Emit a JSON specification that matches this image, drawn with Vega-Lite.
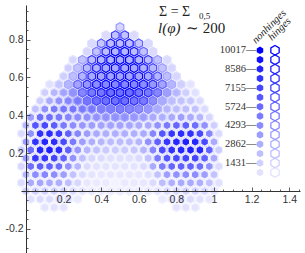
{
"$schema":"https://vega.github.io/schema/vega-lite/v6.json",
"width":274,"height":186,
"autosize":{"type":"none"},
"padding":{"left":26,"top":5,"right":5,"bottom":62},
"background":"white",
"config":{"view":{"stroke":null}},
"datasets":{
"hex":[
{"x":0.5,"y":0.866,"n":1200,"h":3500},
{"x":0.425,"y":0.8227,"n":1000,"h":800},{"x":0.475,"y":0.8227,"n":2000,"h":7500},{"x":0.525,"y":0.8227,"n":2000,"h":7500},{"x":0.575,"y":0.8227,"n":1000,"h":800},
{"x":0.35,"y":0.7794,"n":1000,"h":1000},{"x":0.4,"y":0.7794,"n":1800,"h":6000},{"x":0.45,"y":0.7794,"n":2200,"h":9000},{"x":0.5,"y":0.7794,"n":2200,"h":9500},{"x":0.55,"y":0.7794,"n":2200,"h":9000},{"x":0.6,"y":0.7794,"n":1800,"h":6000},{"x":0.65,"y":0.7794,"n":1000,"h":1000},
{"x":0.325,"y":0.7361,"n":1200,"h":800},{"x":0.375,"y":0.7361,"n":2000,"h":5000},{"x":0.425,"y":0.7361,"n":2200,"h":9000},{"x":0.475,"y":0.7361,"n":2500,"h":10000},{"x":0.525,"y":0.7361,"n":2500,"h":10000},{"x":0.575,"y":0.7361,"n":2200,"h":9000},{"x":0.625,"y":0.7361,"n":2000,"h":5500},{"x":0.675,"y":0.7361,"n":1000,"h":1000},
{"x":0.25,"y":0.6928,"n":1200,"h":500},{"x":0.3,"y":0.6928,"n":2000,"h":3500},{"x":0.35,"y":0.6928,"n":2200,"h":7500},{"x":0.4,"y":0.6928,"n":2500,"h":9500},{"x":0.45,"y":0.6928,"n":2700,"h":10000},{"x":0.5,"y":0.6928,"n":2800,"h":10000},{"x":0.55,"y":0.6928,"n":2700,"h":10000},{"x":0.6,"y":0.6928,"n":2500,"h":9500},{"x":0.65,"y":0.6928,"n":2200,"h":7500},{"x":0.7,"y":0.6928,"n":2000,"h":3500},{"x":0.75,"y":0.6928,"n":1000,"h":800},
{"x":0.225,"y":0.6495,"n":1500,"h":500},{"x":0.275,"y":0.6495,"n":2000,"h":3000},{"x":0.325,"y":0.6495,"n":2400,"h":7000},{"x":0.375,"y":0.6495,"n":2700,"h":9000},{"x":0.425,"y":0.6495,"n":3000,"h":10000},{"x":0.475,"y":0.6495,"n":3000,"h":10000},{"x":0.525,"y":0.6495,"n":3000,"h":10000},{"x":0.575,"y":0.6495,"n":3000,"h":10000},{"x":0.625,"y":0.6495,"n":2700,"h":9000},{"x":0.675,"y":0.6495,"n":2400,"h":7000},{"x":0.725,"y":0.6495,"n":2000,"h":3500},{"x":0.775,"y":0.6495,"n":1200,"h":800},
{"x":0.2,"y":0.6062,"n":1500,"h":500},{"x":0.25,"y":0.6062,"n":2200,"h":3000},{"x":0.3,"y":0.6062,"n":2600,"h":6500},{"x":0.35,"y":0.6062,"n":3000,"h":9000},{"x":0.4,"y":0.6062,"n":3200,"h":10000},{"x":0.45,"y":0.6062,"n":3300,"h":10000},{"x":0.5,"y":0.6062,"n":3300,"h":10000},{"x":0.55,"y":0.6062,"n":3300,"h":10000},{"x":0.6,"y":0.6062,"n":3200,"h":10000},{"x":0.65,"y":0.6062,"n":3000,"h":9000},{"x":0.7,"y":0.6062,"n":2600,"h":7000},{"x":0.75,"y":0.6062,"n":2200,"h":3500},{"x":0.8,"y":0.6062,"n":1200,"h":800},
{"x":0.125,"y":0.5629,"n":800,"h":200},{"x":0.175,"y":0.5629,"n":1800,"h":1000},{"x":0.225,"y":0.5629,"n":2500,"h":3000},{"x":0.275,"y":0.5629,"n":3200,"h":6000},{"x":0.325,"y":0.5629,"n":3800,"h":8500},{"x":0.375,"y":0.5629,"n":4200,"h":9500},{"x":0.425,"y":0.5629,"n":4500,"h":10000},{"x":0.475,"y":0.5629,"n":4500,"h":10000},{"x":0.525,"y":0.5629,"n":4500,"h":10000},{"x":0.575,"y":0.5629,"n":4500,"h":10000},{"x":0.625,"y":0.5629,"n":4200,"h":9500},{"x":0.675,"y":0.5629,"n":3800,"h":8500},{"x":0.725,"y":0.5629,"n":3200,"h":6000},{"x":0.775,"y":0.5629,"n":2500,"h":3000},{"x":0.825,"y":0.5629,"n":1500,"h":1000},{"x":0.875,"y":0.5629,"n":600,"h":200},
{"x":0.1,"y":0.5196,"n":1500,"h":200},{"x":0.15,"y":0.5196,"n":2500,"h":500},{"x":0.2,"y":0.5196,"n":3300,"h":1500},{"x":0.25,"y":0.5196,"n":4000,"h":3500},{"x":0.3,"y":0.5196,"n":4500,"h":6000},{"x":0.35,"y":0.5196,"n":5000,"h":8000},{"x":0.4,"y":0.5196,"n":5200,"h":9000},{"x":0.45,"y":0.5196,"n":5500,"h":9500},{"x":0.5,"y":0.5196,"n":5500,"h":9500},{"x":0.55,"y":0.5196,"n":5500,"h":9500},{"x":0.6,"y":0.5196,"n":5200,"h":9000},{"x":0.65,"y":0.5196,"n":5000,"h":8000},{"x":0.7,"y":0.5196,"n":4500,"h":6000},{"x":0.75,"y":0.5196,"n":3500,"h":3500},{"x":0.8,"y":0.5196,"n":2500,"h":1500},{"x":0.85,"y":0.5196,"n":1500,"h":500},{"x":0.9,"y":0.5196,"n":800,"h":200},
{"x":0.075,"y":0.4763,"n":1500,"h":200},{"x":0.125,"y":0.4763,"n":3000,"h":500},{"x":0.175,"y":0.4763,"n":4000,"h":1000},{"x":0.225,"y":0.4763,"n":4500,"h":2000},{"x":0.275,"y":0.4763,"n":5000,"h":3500},{"x":0.325,"y":0.4763,"n":5200,"h":5500},{"x":0.375,"y":0.4763,"n":5500,"h":7000},{"x":0.425,"y":0.4763,"n":5500,"h":8000},{"x":0.475,"y":0.4763,"n":5500,"h":8500},{"x":0.525,"y":0.4763,"n":5500,"h":8500},{"x":0.575,"y":0.4763,"n":5200,"h":8000},{"x":0.625,"y":0.4763,"n":5000,"h":7000},{"x":0.675,"y":0.4763,"n":4200,"h":5000},{"x":0.725,"y":0.4763,"n":3000,"h":3000},{"x":0.775,"y":0.4763,"n":2200,"h":1500},{"x":0.825,"y":0.4763,"n":2000,"h":800},{"x":0.875,"y":0.4763,"n":1800,"h":500},{"x":0.925,"y":0.4763,"n":1000,"h":200},
{"x":0.05,"y":0.433,"n":2000,"h":200},{"x":0.1,"y":0.433,"n":4000,"h":300},{"x":0.15,"y":0.433,"n":5000,"h":500},{"x":0.2,"y":0.433,"n":5200,"h":1000},{"x":0.25,"y":0.433,"n":5200,"h":1500},{"x":0.3,"y":0.433,"n":5000,"h":2500},{"x":0.35,"y":0.433,"n":5000,"h":3500},{"x":0.4,"y":0.433,"n":4800,"h":4500},{"x":0.45,"y":0.433,"n":4800,"h":5000},{"x":0.5,"y":0.433,"n":4800,"h":5500},{"x":0.55,"y":0.433,"n":4500,"h":5500},{"x":0.6,"y":0.433,"n":4200,"h":5000},{"x":0.65,"y":0.433,"n":3800,"h":4000},{"x":0.7,"y":0.433,"n":3000,"h":2500},{"x":0.75,"y":0.433,"n":2500,"h":1200},{"x":0.8,"y":0.433,"n":2200,"h":600},{"x":0.85,"y":0.433,"n":2200,"h":400},{"x":0.9,"y":0.433,"n":2000,"h":300},{"x":0.95,"y":0.433,"n":1000,"h":100},
{"x":0.025,"y":0.3897,"n":3500,"h":200},{"x":0.075,"y":0.3897,"n":5500,"h":300},{"x":0.125,"y":0.3897,"n":5500,"h":400},{"x":0.175,"y":0.3897,"n":5000,"h":500},{"x":0.225,"y":0.3897,"n":4500,"h":800},{"x":0.275,"y":0.3897,"n":4200,"h":1200},{"x":0.325,"y":0.3897,"n":4000,"h":1500},{"x":0.375,"y":0.3897,"n":4000,"h":2000},{"x":0.425,"y":0.3897,"n":4000,"h":2500},{"x":0.475,"y":0.3897,"n":4000,"h":3000},{"x":0.525,"y":0.3897,"n":4000,"h":3000},{"x":0.575,"y":0.3897,"n":3800,"h":2800},{"x":0.625,"y":0.3897,"n":3500,"h":2000},{"x":0.675,"y":0.3897,"n":3000,"h":1200},{"x":0.725,"y":0.3897,"n":2800,"h":800},{"x":0.775,"y":0.3897,"n":3000,"h":500},{"x":0.825,"y":0.3897,"n":3500,"h":300},{"x":0.875,"y":0.3897,"n":3000,"h":300},{"x":0.925,"y":0.3897,"n":2500,"h":200},{"x":0.975,"y":0.3897,"n":1200,"h":100},
{"x":0,"y":0.3464,"n":2500,"h":200},{"x":0.05,"y":0.3464,"n":6500,"h":300},{"x":0.1,"y":0.3464,"n":7000,"h":300},{"x":0.15,"y":0.3464,"n":6200,"h":300},{"x":0.2,"y":0.3464,"n":5000,"h":400},{"x":0.25,"y":0.3464,"n":4200,"h":500},{"x":0.3,"y":0.3464,"n":3800,"h":600},{"x":0.35,"y":0.3464,"n":3500,"h":800},{"x":0.4,"y":0.3464,"n":3300,"h":1000},{"x":0.45,"y":0.3464,"n":3300,"h":1200},{"x":0.5,"y":0.3464,"n":3300,"h":1200},{"x":0.55,"y":0.3464,"n":3200,"h":1000},{"x":0.6,"y":0.3464,"n":3000,"h":800},{"x":0.65,"y":0.3464,"n":3000,"h":500},{"x":0.7,"y":0.3464,"n":4000,"h":400},{"x":0.75,"y":0.3464,"n":5000,"h":300},{"x":0.8,"y":0.3464,"n":5800,"h":300},{"x":0.85,"y":0.3464,"n":6000,"h":300},{"x":0.9,"y":0.3464,"n":5500,"h":200},{"x":0.95,"y":0.3464,"n":4000,"h":200},{"x":1,"y":0.3464,"n":1500,"h":100},
{"x":-0.025,"y":0.3031,"n":1000,"h":100},{"x":0.025,"y":0.3031,"n":4000,"h":200},{"x":0.075,"y":0.3031,"n":8000,"h":200},{"x":0.125,"y":0.3031,"n":8200,"h":200},{"x":0.175,"y":0.3031,"n":7500,"h":200},{"x":0.225,"y":0.3031,"n":6000,"h":300},{"x":0.275,"y":0.3031,"n":4500,"h":300},{"x":0.325,"y":0.3031,"n":3500,"h":400},{"x":0.375,"y":0.3031,"n":3000,"h":500},{"x":0.425,"y":0.3031,"n":2800,"h":600},{"x":0.475,"y":0.3031,"n":2800,"h":600},{"x":0.525,"y":0.3031,"n":2800,"h":600},{"x":0.575,"y":0.3031,"n":2800,"h":500},{"x":0.625,"y":0.3031,"n":3000,"h":400},{"x":0.675,"y":0.3031,"n":4500,"h":300},{"x":0.725,"y":0.3031,"n":6500,"h":200},{"x":0.775,"y":0.3031,"n":7800,"h":200},{"x":0.825,"y":0.3031,"n":8200,"h":200},{"x":0.875,"y":0.3031,"n":8000,"h":200},{"x":0.925,"y":0.3031,"n":7000,"h":200},{"x":0.975,"y":0.3031,"n":4500,"h":100},{"x":1.025,"y":0.3031,"n":1000,"h":100},
{"x":0,"y":0.2598,"n":3500,"h":100},{"x":0.05,"y":0.2598,"n":8000,"h":200},{"x":0.1,"y":0.2598,"n":8500,"h":200},{"x":0.15,"y":0.2598,"n":8200,"h":200},{"x":0.2,"y":0.2598,"n":7000,"h":200},{"x":0.25,"y":0.2598,"n":5000,"h":200},{"x":0.3,"y":0.2598,"n":3500,"h":300},{"x":0.35,"y":0.2598,"n":2800,"h":300},{"x":0.4,"y":0.2598,"n":2500,"h":400},{"x":0.45,"y":0.2598,"n":2300,"h":400},{"x":0.5,"y":0.2598,"n":2300,"h":400},{"x":0.55,"y":0.2598,"n":2300,"h":400},{"x":0.6,"y":0.2598,"n":2600,"h":300},{"x":0.65,"y":0.2598,"n":4000,"h":200},{"x":0.7,"y":0.2598,"n":6000,"h":200},{"x":0.75,"y":0.2598,"n":7800,"h":200},{"x":0.8,"y":0.2598,"n":8500,"h":200},{"x":0.85,"y":0.2598,"n":8700,"h":200},{"x":0.9,"y":0.2598,"n":8500,"h":200},{"x":0.95,"y":0.2598,"n":7000,"h":100},{"x":1,"y":0.2598,"n":3000,"h":100},
{"x":-0.025,"y":0.2165,"n":1500,"h":100},{"x":0.025,"y":0.2165,"n":5500,"h":100},{"x":0.075,"y":0.2165,"n":8500,"h":100},{"x":0.125,"y":0.2165,"n":8800,"h":100},{"x":0.175,"y":0.2165,"n":8200,"h":200},{"x":0.225,"y":0.2165,"n":6000,"h":200},{"x":0.275,"y":0.2165,"n":3800,"h":200},{"x":0.325,"y":0.2165,"n":2500,"h":200},{"x":0.375,"y":0.2165,"n":2000,"h":300},{"x":0.425,"y":0.2165,"n":1700,"h":300},{"x":0.475,"y":0.2165,"n":1600,"h":300},{"x":0.525,"y":0.2165,"n":1600,"h":300},{"x":0.575,"y":0.2165,"n":1800,"h":300},{"x":0.625,"y":0.2165,"n":2500,"h":200},{"x":0.675,"y":0.2165,"n":4500,"h":200},{"x":0.725,"y":0.2165,"n":7000,"h":200},{"x":0.775,"y":0.2165,"n":8000,"h":100},{"x":0.825,"y":0.2165,"n":8500,"h":100},{"x":0.875,"y":0.2165,"n":8800,"h":100},{"x":0.925,"y":0.2165,"n":8500,"h":100},{"x":0.975,"y":0.2165,"n":6000,"h":100},{"x":1.025,"y":0.2165,"n":1500,"h":100},
{"x":0,"y":0.1732,"n":3500,"h":100},{"x":0.05,"y":0.1732,"n":7800,"h":100},{"x":0.1,"y":0.1732,"n":7800,"h":100},{"x":0.15,"y":0.1732,"n":7200,"h":100},{"x":0.2,"y":0.1732,"n":6000,"h":100},{"x":0.25,"y":0.1732,"n":4000,"h":100},{"x":0.3,"y":0.1732,"n":2200,"h":200},{"x":0.35,"y":0.1732,"n":1200,"h":200},{"x":0.4,"y":0.1732,"n":1000,"h":200},{"x":0.45,"y":0.1732,"n":800,"h":200},{"x":0.5,"y":0.1732,"n":800,"h":200},{"x":0.55,"y":0.1732,"n":800,"h":200},{"x":0.6,"y":0.1732,"n":1000,"h":200},{"x":0.65,"y":0.1732,"n":2000,"h":200},{"x":0.7,"y":0.1732,"n":5000,"h":100},{"x":0.75,"y":0.1732,"n":6500,"h":100},{"x":0.8,"y":0.1732,"n":7000,"h":100},{"x":0.85,"y":0.1732,"n":7200,"h":100},{"x":0.9,"y":0.1732,"n":7200,"h":100},{"x":0.95,"y":0.1732,"n":6000,"h":100},{"x":1,"y":0.1732,"n":3000,"h":100},
{"x":-0.025,"y":0.1299,"n":1200,"h":100},{"x":0.025,"y":0.1299,"n":5500,"h":100},{"x":0.075,"y":0.1299,"n":6200,"h":100},{"x":0.125,"y":0.1299,"n":6000,"h":100},{"x":0.175,"y":0.1299,"n":5500,"h":100},{"x":0.225,"y":0.1299,"n":4000,"h":100},{"x":0.275,"y":0.1299,"n":2500,"h":100},{"x":0.325,"y":0.1299,"n":1000,"h":100},{"x":0.375,"y":0.1299,"n":700,"h":100},{"x":0.425,"y":0.1299,"n":600,"h":100},{"x":0.475,"y":0.1299,"n":600,"h":100},{"x":0.525,"y":0.1299,"n":600,"h":100},{"x":0.575,"y":0.1299,"n":600,"h":100},{"x":0.625,"y":0.1299,"n":1000,"h":100},{"x":0.675,"y":0.1299,"n":3000,"h":100},{"x":0.725,"y":0.1299,"n":5000,"h":100},{"x":0.775,"y":0.1299,"n":5800,"h":100},{"x":0.825,"y":0.1299,"n":6000,"h":100},{"x":0.875,"y":0.1299,"n":6000,"h":100},{"x":0.925,"y":0.1299,"n":5500,"h":100},{"x":0.975,"y":0.1299,"n":4000,"h":100},{"x":1.025,"y":0.1299,"n":1000,"h":100},
{"x":0,"y":0.0866,"n":2500,"h":100},{"x":0.05,"y":0.0866,"n":4200,"h":100},{"x":0.1,"y":0.0866,"n":4500,"h":100},{"x":0.15,"y":0.0866,"n":4200,"h":100},{"x":0.2,"y":0.0866,"n":3500,"h":100},{"x":0.25,"y":0.0866,"n":2000,"h":100},{"x":0.3,"y":0.0866,"n":1000,"h":100},{"x":0.35,"y":0.0866,"n":600,"h":100},{"x":0.4,"y":0.0866,"n":500,"h":100},{"x":0.45,"y":0.0866,"n":500,"h":100},{"x":0.5,"y":0.0866,"n":500,"h":100},{"x":0.55,"y":0.0866,"n":500,"h":100},{"x":0.6,"y":0.0866,"n":500,"h":100},{"x":0.65,"y":0.0866,"n":800,"h":100},{"x":0.7,"y":0.0866,"n":2000,"h":100},{"x":0.75,"y":0.0866,"n":3500,"h":100},{"x":0.8,"y":0.0866,"n":4000,"h":100},{"x":0.85,"y":0.0866,"n":4200,"h":100},{"x":0.9,"y":0.0866,"n":4200,"h":100},{"x":0.95,"y":0.0866,"n":3500,"h":100},{"x":1,"y":0.0866,"n":2000,"h":100},
{"x":-0.025,"y":0.0433,"n":1000,"h":50},{"x":0.025,"y":0.0433,"n":3000,"h":50},{"x":0.075,"y":0.0433,"n":3200,"h":50},{"x":0.125,"y":0.0433,"n":3000,"h":50},{"x":0.175,"y":0.0433,"n":2800,"h":50},{"x":0.225,"y":0.0433,"n":2200,"h":50},{"x":0.275,"y":0.0433,"n":1200,"h":50},{"x":0.325,"y":0.0433,"n":500,"h":50},{"x":0.375,"y":0.0433,"n":400,"h":50},{"x":0.425,"y":0.0433,"n":400,"h":50},{"x":0.475,"y":0.0433,"n":0,"h":0},{"x":0.525,"y":0.0433,"n":400,"h":50},{"x":0.575,"y":0.0433,"n":400,"h":50},{"x":0.625,"y":0.0433,"n":500,"h":50},{"x":0.675,"y":0.0433,"n":1000,"h":50},{"x":0.725,"y":0.0433,"n":2200,"h":50},{"x":0.775,"y":0.0433,"n":2800,"h":50},{"x":0.825,"y":0.0433,"n":3000,"h":50},{"x":0.875,"y":0.0433,"n":3000,"h":50},{"x":0.925,"y":0.0433,"n":2800,"h":50},{"x":0.975,"y":0.0433,"n":2000,"h":50},{"x":1.025,"y":0.0433,"n":800,"h":50},
{"x":0,"y":0,"n":1500,"h":50},{"x":0.05,"y":0,"n":1500,"h":50},{"x":0.1,"y":0,"n":1500,"h":50},{"x":0.15,"y":0,"n":1500,"h":50},{"x":0.2,"y":0,"n":1400,"h":50},{"x":0.25,"y":0,"n":1000,"h":50},{"x":0.3,"y":0,"n":600,"h":50},{"x":0.35,"y":0,"n":400,"h":50},{"x":0.4,"y":0,"n":300,"h":50},{"x":0.45,"y":0,"n":300,"h":50},{"x":0.5,"y":0,"n":300,"h":50},{"x":0.55,"y":0,"n":300,"h":50},{"x":0.6,"y":0,"n":300,"h":50},{"x":0.65,"y":0,"n":400,"h":50},{"x":0.7,"y":0,"n":600,"h":50},{"x":0.75,"y":0,"n":1000,"h":50},{"x":0.8,"y":0,"n":1200,"h":50},{"x":0.85,"y":0,"n":1400,"h":50},{"x":0.9,"y":0,"n":1400,"h":50},{"x":0.95,"y":0,"n":1200,"h":50},{"x":1,"y":0,"n":800,"h":50},
{"x":0.025,"y":-0.0433,"n":800,"h":0},{"x":0.075,"y":-0.0433,"n":1000,"h":0},{"x":0.125,"y":-0.0433,"n":1000,"h":0},{"x":0.175,"y":-0.0433,"n":1000,"h":0},{"x":0.225,"y":-0.0433,"n":800,"h":0},{"x":0.275,"y":-0.0433,"n":400,"h":0},{"x":0.725,"y":-0.0433,"n":400,"h":0},{"x":0.775,"y":-0.0433,"n":800,"h":0},{"x":0.825,"y":-0.0433,"n":1000,"h":0},{"x":0.875,"y":-0.0433,"n":1000,"h":0},{"x":0.925,"y":-0.0433,"n":800,"h":0},{"x":0.975,"y":-0.0433,"n":500,"h":0},
{"x":0.1,"y":-0.0866,"n":600,"h":0},{"x":0.15,"y":-0.0866,"n":700,"h":0},{"x":0.2,"y":-0.0866,"n":600,"h":0},{"x":0.8,"y":-0.0866,"n":600,"h":0},{"x":0.85,"y":-0.0866,"n":700,"h":0},{"x":0.9,"y":-0.0866,"n":600,"h":0}
],
"legend":[
{"count":715},{"count":1431},{"count":2146},{"count":2862},{"count":3577},{"count":4293},{"count":5008},{"count":5724},{"count":6439},{"count":7155},{"count":7870},{"count":8586},{"count":9301},{"count":10017}
],
"legendLabels":[
{"count":1431,"label":"1431—"},{"count":2862,"label":"2862—"},{"count":4293,"label":"4293—"},{"count":5724,"label":"5724—"},{"count":7155,"label":"7155—"},{"count":8586,"label":"8586—"},{"count":10017,"label":"10017—"}
]
},
"layer":[
{
"data":{"name":"hex"},
"mark":{"type":"point","shape":"M0,-1L0.866,-0.5L0.866,0.5L0,1L-0.866,0.5L-0.866,-0.5Z","filled":true,"size":94,"opacity":1,"strokeWidth":0},
"encoding":{
"x":{"field":"x","type":"quantitative","scale":{"domain":[-0.026596,1.457447],"range":[-5,274],"nice":false,"zero":false},
"axis":{"orient":"bottom","title":null,"grid":false,"zindex":1,
"values":[0.05,0.1,0.15,0.2,0.25,0.3,0.35,0.4,0.45,0.5,0.55,0.6,0.65,0.7,0.75,0.8,0.85,0.9,0.95,1,1.05,1.1,1.15,1.2,1.25,1.3,1.35,1.4,1.45],
"domainColor":"#333333","domainWidth":1,"tickColor":"#333333","tickWidth":0.8,"tickSize":-4,
"tickDash":{"condition":{"test":"abs(datum.value*5-round(datum.value*5))<0.01","value":[10,0]},"value":[2,10]},
"labelExpr":"abs(datum.value*5-round(datum.value*5))<0.01 ? toString(round(datum.value*10)/10) : ''",
"labelFont":"Liberation Sans","labelFontSize":10.5,"labelColor":"#333333","labelPadding":7,"labelOverlap":false,"labelFlush":false,"labelBound":false}},
"y":{"field":"y","type":"quantitative","scale":{"domain":[-0.32752,0.98257],"range":[248,0],"nice":false,"zero":false},
"axis":{"orient":"left","title":null,"grid":false,"zindex":1,
"values":[-0.3,-0.25,-0.2,-0.15,-0.1,-0.05,0.05,0.1,0.15,0.2,0.25,0.3,0.35,0.4,0.45,0.5,0.55,0.6,0.65,0.7,0.75,0.8,0.85,0.9,0.95],
"domainColor":"#333333","domainWidth":1,"tickColor":"#333333","tickWidth":0.8,"tickSize":-4,
"tickDash":{"condition":{"test":"abs(datum.value*5-round(datum.value*5))<0.01","value":[10,0]},"value":[2,10]},
"labelExpr":"abs(datum.value*5-round(datum.value*5))<0.01 ? toString(round(datum.value*10)/10) : ''",
"labelFont":"Liberation Sans","labelFontSize":10.5,"labelColor":"#333333","labelPadding":7,"labelOverlap":false,"labelFlush":false,"labelBound":false}},
"color":{"field":"n","type":"quantitative","scale":{"domain":[0,10017],"range":["#f3f3ff","#0000ff"],"interpolate":"rgb"},"legend":null}
}
},
{
"data":{"name":"hex"},
"mark":{"type":"point","shape":"M0,-1L0.866,-0.5L0.866,0.5L0,1L-0.866,0.5L-0.866,-0.5Z","filled":false,"size":78,"opacity":1,"strokeWidth":1.2},
"encoding":{
"x":{"field":"x","type":"quantitative","scale":{"domain":[-0.026596,1.457447],"range":[-5,274],"nice":false,"zero":false},"axis":null},
"y":{"field":"y","type":"quantitative","scale":{"domain":[-0.32752,0.98257],"range":[248,0],"nice":false,"zero":false},"axis":null},
"color":{"field":"h","type":"quantitative","legend":null}
}
},
{
"data":{"values":[{}]},
"mark":{"type":"text","align":"left","baseline":"middle","font":"Liberation Serif","fontSize":14,"color":"#222222"},
"encoding":{"x":{"datum":0.7074,"type":"quantitative","scale":{"domain":[-0.026596,1.457447],"range":[-5,274],"nice":false,"zero":false},"axis":null},"y":{"datum":0.943,"type":"quantitative","scale":{"domain":[-0.32752,0.98257],"range":[248,0],"nice":false,"zero":false},"axis":null},"text":{"value":"Σ = Σ"}}
},
{
"data":{"values":[{}]},
"mark":{"type":"text","align":"left","baseline":"middle","font":"Liberation Serif","fontSize":9,"color":"#222222"},
"encoding":{"x":{"datum":0.9205,"type":"quantitative","scale":{"domain":[-0.026596,1.457447],"range":[-5,274],"nice":false,"zero":false},"axis":null},"y":{"datum":0.925,"type":"quantitative","scale":{"domain":[-0.32752,0.98257],"range":[248,0],"nice":false,"zero":false},"axis":null},"text":{"value":"0,5"}}
},
{
"data":{"values":[{}]},
"mark":{"type":"text","align":"left","baseline":"middle","font":"Liberation Serif","fontSize":15,"fontStyle":"italic","color":"#222222"},
"encoding":{"x":{"datum":0.7021,"type":"quantitative","scale":{"domain":[-0.026596,1.457447],"range":[-5,274],"nice":false,"zero":false},"axis":null},"y":{"datum":0.862,"type":"quantitative","scale":{"domain":[-0.32752,0.98257],"range":[248,0],"nice":false,"zero":false},"axis":null},"text":{"value":"l(φ)"}}
},
{
"data":{"values":[{}]},
"mark":{"type":"text","align":"left","baseline":"middle","font":"Liberation Serif","fontSize":15,"color":"#222222"},
"encoding":{"x":{"datum":0.8511,"type":"quantitative","scale":{"domain":[-0.026596,1.457447],"range":[-5,274],"nice":false,"zero":false},"axis":null},"y":{"datum":0.862,"type":"quantitative","scale":{"domain":[-0.32752,0.98257],"range":[248,0],"nice":false,"zero":false},"axis":null},"text":{"value":"∼ 200"}}
},
{
"data":{"values":[{}]},
"mark":{"type":"text","align":"left","baseline":"alphabetic","font":"Liberation Serif","fontSize":10.5,"fontStyle":"italic","angle":-45,"color":"#222222"},
"encoding":{"x":{"datum":1.2234,"type":"quantitative","scale":{"domain":[-0.026596,1.457447],"range":[-5,274],"nice":false,"zero":false},"axis":null},"y":{"datum":0.7765,"type":"quantitative","scale":{"domain":[-0.32752,0.98257],"range":[248,0],"nice":false,"zero":false},"axis":null},"text":{"value":"nonhinges"}}
},
{
"data":{"values":[{}]},
"mark":{"type":"text","align":"left","baseline":"alphabetic","font":"Liberation Serif","fontSize":10.5,"fontStyle":"italic","angle":-45,"color":"#222222"},
"encoding":{"x":{"datum":1.3085,"type":"quantitative","scale":{"domain":[-0.026596,1.457447],"range":[-5,274],"nice":false,"zero":false},"axis":null},"y":{"datum":0.7924,"type":"quantitative","scale":{"domain":[-0.32752,0.98257],"range":[248,0],"nice":false,"zero":false},"axis":null},"text":{"value":"hinges"}}
},
{
"data":{"name":"legend"},
"mark":{"type":"point","shape":"M0,-1L0.866,-0.5L0.866,0.5L0,1L-0.866,0.5L-0.866,-0.5Z","filled":true,"size":56,"opacity":1,"strokeWidth":0},
"encoding":{
"x":{"datum":1.2447,"type":"quantitative","scale":{"domain":[-0.026596,1.457447],"range":[-5,274],"nice":false,"zero":false},"axis":null},
"y":{"field":"count","type":"quantitative","scale":{"domain":[-5425,13468],"range":[248,0],"nice":false,"zero":false},"axis":null},
"color":{"field":"count","type":"quantitative","legend":null}
}
},
{
"data":{"name":"legend"},
"mark":{"type":"point","shape":"M0,-1L0.866,-0.5L0.866,0.5L0,1L-0.866,0.5L-0.866,-0.5Z","filled":false,"size":92,"opacity":1,"strokeWidth":1.3},
"encoding":{
"x":{"datum":1.3245,"type":"quantitative","scale":{"domain":[-0.026596,1.457447],"range":[-5,274],"nice":false,"zero":false},"axis":null},
"y":{"field":"count","type":"quantitative","scale":{"domain":[-5425,13468],"range":[248,0],"nice":false,"zero":false},"axis":null},
"color":{"field":"count","type":"quantitative","legend":null}
}
},
{
"data":{"name":"legendLabels"},
"mark":{"type":"text","align":"right","baseline":"middle","font":"Liberation Serif","fontSize":10.5,"color":"#333333"},
"encoding":{
"x":{"datum":1.2261,"type":"quantitative","scale":{"domain":[-0.026596,1.457447],"range":[-5,274],"nice":false,"zero":false},"axis":null},
"y":{"field":"count","type":"quantitative","scale":{"domain":[-5425,13468],"range":[248,0],"nice":false,"zero":false},"axis":null},
"text":{"field":"label"}
}
}
],
"resolve":{"scale":{"x":"independent","y":"independent"}}
}
